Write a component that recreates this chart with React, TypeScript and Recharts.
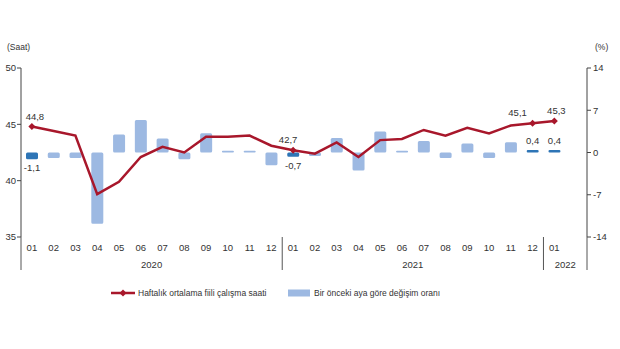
import React from 'react';
import { ComposedChart, Bar, Line, XAxis, YAxis, Cell } from 'recharts';

const months = ['01','02','03','04','05','06','07','08','09','10','11','12','01','02','03','04','05','06','07','08','09','10','11','12','01',''];
const years = ['2020','2020','2020','2020','2020','2020','2020','2020','2020','2020','2020','2020','2021','2021','2021','2021','2021','2021','2021','2021','2021','2021','2021','2021','2022','2022'];
const hours: (number | null)[] = [44.8,44.4,44.0,38.8,39.9,42.1,43.0,42.5,43.9,43.9,44.0,43.1,42.7,42.4,43.4,42.1,43.6,43.7,44.5,44.0,44.7,44.2,44.9,45.1,45.3,null];
const change: (number | null)[] = [-1.1,-0.9,-0.9,-11.8,3.0,5.4,2.3,-1.1,3.2,0.3,0.3,-2.1,-0.7,-0.6,2.4,-3.0,3.5,0.3,1.9,-0.9,1.5,-0.9,1.7,0.4,0.4,null];
const highlighted = [0, 12, 23, 24];
const leftTicks = [35, 40, 45, 50];
const rightTicks = [-14, -7, 0, 7, 14];
const seriesNames = ['Haftalık ortalama fiili çalışma saati', 'Bir önceki aya göre değişim oranı'];

const data = months.map((m, i) => ({ month: m, year: years[i], idx: i, hours: hours[i], change: change[i] }));

const RED = '#A8172B';
const LIGHT = '#9DB9E2';
const DARK = '#2E75B6';
const FONT = '"Liberation Sans", Arial, sans-serif';
const TXT = '#333';

const fmt = (v: number) => v.toFixed(1).replace('.', ',');

const lineLabelDx: Record<number, number> = { 0: 3, 12: -5, 23: -15, 24: 2 };

// year groups
const groups: { year: string; start: number; end: number }[] = [];
years.forEach((y, i) => {
  const g = groups[groups.length - 1];
  if (g && g.year === y) g.end = i;
  else groups.push({ year: y, start: i, end: i });
});

const MonthTick = (props: any) => {
  const { x, y, payload, index } = props;
  const n = months.length;
  const band = props.bandSize || (payload && payload.offset ? payload.offset * 2 : 566 / n);
  const half = band / 2;
  const i = typeof index === 'number' ? index : payload.index;
  const els: any[] = [];
  els.push(
    <text key="m" x={x} y={y + 14} textAnchor="middle" fontSize={9.5} fill={TXT} fontFamily={FONT}>{payload.value}</text>
  );
  groups.forEach((g, gi) => {
    if (g.start === i) {
      els.push(<line key={'s' + gi} x1={x - half} x2={x - half} y1={y} y2={y + 33} stroke="#555" strokeWidth={1} />);
    }
    if (g.end === i && gi === groups.length - 1) {
      els.push(<line key={'e' + gi} x1={x + half} x2={x + half} y1={y} y2={y + 33} stroke="#555" strokeWidth={1} />);
    }
    const center = (g.start + g.end + 1) / 2;
    const ti = Math.min(Math.floor(center), g.end);
    if (ti === i) {
      const cx = x + (center - i - 0.5) * band;
      els.push(<text key={'y' + gi} x={cx} y={y + 31} textAnchor="middle" fontSize={9.5} fill={TXT} fontFamily={FONT}>{g.year}</text>);
    }
  });
  return <g>{els}</g>;
};

const Diamond = (props: any) => {
  const { cx, cy, index } = props;
  if (!highlighted.includes(index) || cx == null || cy == null) return <g key={'d' + index} />;
  const r = 3.5;
  return <path key={'d' + index} d={`M${cx},${cy - r}L${cx + r},${cy}L${cx},${cy + r}L${cx - r},${cy}Z`} fill={RED} />;
};

const LineLabel = (props: any) => {
  const { x, y, index, value } = props;
  if (!highlighted.includes(index) || value == null) return null;
  return <text x={x + (lineLabelDx[index] || 0)} y={y - 7} textAnchor="middle" fontSize={9.5} fill={TXT} fontFamily={FONT}>{fmt(value)}</text>;
};

const BarLabel = (props: any) => {
  const { x, y, width, height, index, value } = props;
  if (!highlighted.includes(index) || value == null) return null;
  const cx = x + width / 2;
  const top = Math.min(y, y + height);
  const bottom = Math.max(y, y + height);
  const ty = value < 0 ? bottom + 12 : top - 6;
  return <text x={cx} y={ty} textAnchor="middle" fontSize={9.5} fill={TXT} fontFamily={FONT}>{fmt(value)}</text>;
};

const LegendContent = () => (
  <svg width={620} height={20} style={{ display: 'block' }}>
    <line x1={111} x2={135} y1={9} y2={9} stroke={RED} strokeWidth={2.5} />
    <path d="M123,5.5L126.5,9L123,12.5L119.5,9Z" fill={RED} />
    <text x={138} y={12} fontSize={8.5} fill={TXT} fontFamily={FONT}>{seriesNames[0]}</text>
    <rect x={288} y={5.5} width={22} height={7} fill={LIGHT} />
    <text x={314} y={12} fontSize={8.5} fill={TXT} fontFamily={FONT}>{seriesNames[1]}</text>
  </svg>
);

export default function App() {
  return (
    <div style={{ position: 'absolute', left: 0, top: 0, width: 620, height: 349, background: '#fff' }}>
      <ComposedChart width={620} height={349} data={data} margin={{ top: 68, right: 0, bottom: 0, left: 0 }} barGap={0}>
        <XAxis
          dataKey="month"
          xAxisId="x"
          height={112}
          axisLine={false}
          tickLine={false}
          tickSize={0}
          tickMargin={0}
          interval={0}
          tick={<MonthTick />}
        />
        <YAxis
          yAxisId="left"
          orientation="left"
          width={21}
          domain={[35, 50]}
          ticks={leftTicks}
          allowDataOverflow
          axisLine={{ stroke: '#444' }}
          tickLine={{ stroke: '#444' }}
          tickSize={4}
          tick={{ fontSize: 9.5, fill: TXT, fontFamily: FONT }}
          tickMargin={1}
        />
        <YAxis
          yAxisId="right"
          orientation="right"
          width={33}
          domain={[-14, 14]}
          ticks={rightTicks}
          allowDataOverflow
          axisLine={{ stroke: '#444' }}
          tickLine={{ stroke: '#444' }}
          tickSize={4}
          tick={{ fontSize: 9.5, fill: TXT, fontFamily: FONT, textAnchor: 'start' }}
          tickMargin={2}
        />
        <Bar dataKey="change" xAxisId="x" yAxisId="right" barSize={12} isAnimationActive={false} label={<BarLabel />} radius={1.5}>
          {data.map((d, i) => (
            <Cell key={i} fill={highlighted.includes(i) ? DARK : LIGHT} />
          ))}
        </Bar>
        <Line
          dataKey="hours"
          xAxisId="x"
          yAxisId="left"
          stroke={RED}
          strokeWidth={2.5}
          dot={<Diamond />}
          activeDot={false}
          isAnimationActive={false}
          label={<LineLabel />}
        />
      </ComposedChart>
      <div style={{ position: 'absolute', left: 0, top: 284, width: 620 }}>
        <LegendContent />
      </div>
      <div style={{ position: 'absolute', left: 7, top: 42, fontSize: 8.5, fontFamily: FONT, color: TXT }}>(Saat)</div>
      <div style={{ position: 'absolute', left: 595, top: 42, fontSize: 8.5, fontFamily: FONT, color: TXT }}>(%)</div>
    </div>
  );
}
